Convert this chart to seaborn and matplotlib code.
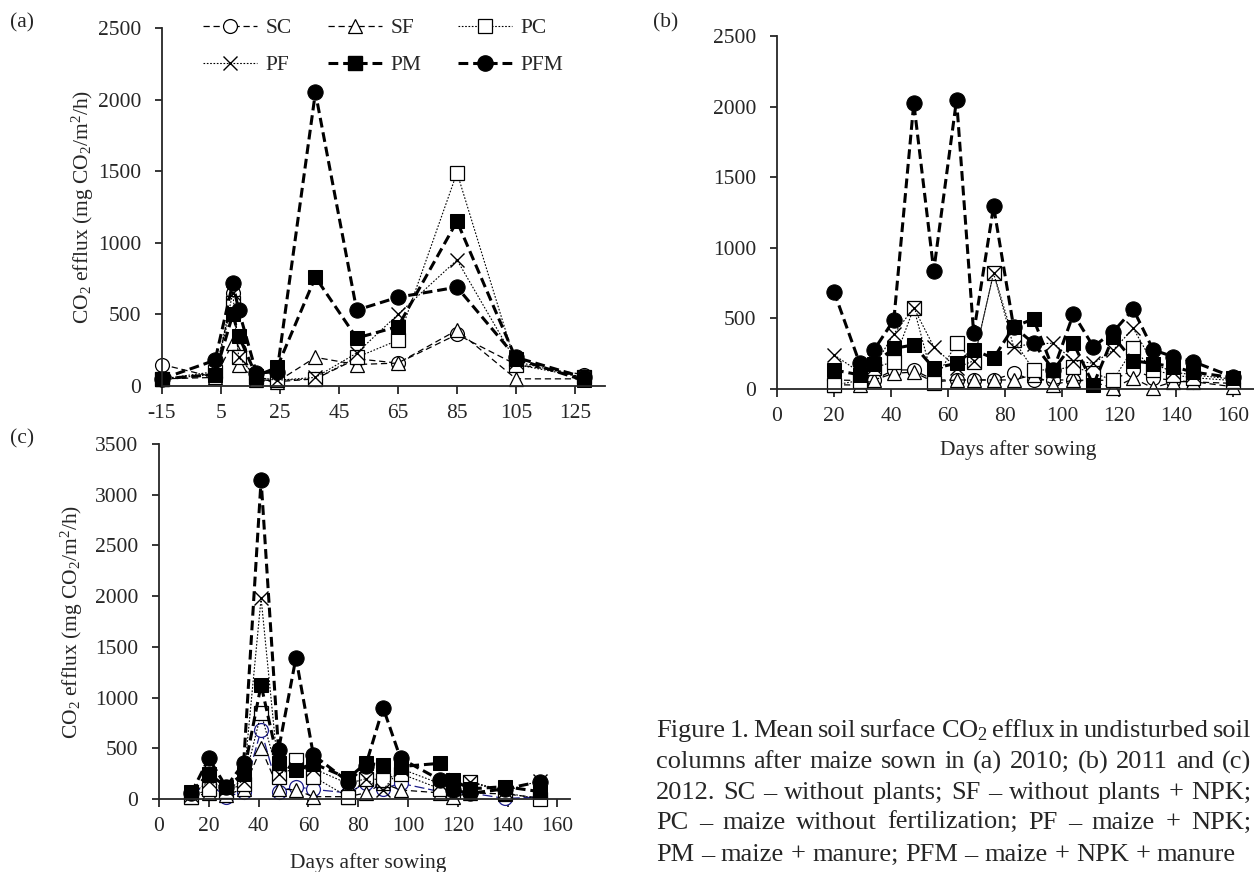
import numpy as np
import pandas as pd
import matplotlib
matplotlib.use("Agg")
import matplotlib.pyplot as plt
from matplotlib.lines import Line2D
import seaborn as sns

# ---------------- data ----------------
series_names = ["SC", "SF", "PC", "PF", "PM", "PFM"]

# (a) 2010
days_a = [-15, 3, 9, 11, 17, 24, 37, 51, 65, 85, 105, 128]
sc_a  = [150, 60, 650, 250, 50, 30, 50, 190, 160, 360, 150, 80]
sf_a  = [50, 60, 300, 150, 40, 30, 200, 150, 160, 390, 50, 50]
pc_a  = [50, 100, 580, 200, 60, 40, 50, 200, 320, 1490, 150, 60]
pf_a  = [50, 80, 650, 200, 60, 40, 60, 230, 500, 880, 170, 60]
pm_a  = [50, 80, 500, 350, 70, 130, 760, 335, 415, 1150, 190, 40]
pfm_a = [50, 180, 720, 530, 90, 100, 2050, 530, 620, 690, 200, 60]

# (b) 2011
days_b = [20, 29, 34, 41, 48, 55, 63, 69, 76, 83, 90, 97, 104, 111, 118, 125, 132, 139, 146, 160]
sc_b  = [64, 60, 64, 135, 135, 64, 64, 64, 64, 111, 64, 64, 64, 60, 64, 135, 80, 60, 50, 40]
sf_b  = [30, 28, 64, 111, 120, 50, 64, 64, 64, 64, 100, 30, 64, 50, 7, 76, 7, 52, 52, 16]
pc_b  = [28, 60, 150, 194, 574, 46, 324, 194, 822, 350, 135, 135, 158, 111, 64, 288, 135, 100, 80, 60]
pf_b  = [241, 120, 158, 390, 574, 300, 150, 200, 822, 300, 320, 324, 200, 182, 276, 430, 180, 120, 100, 70]
pm_b  = [135, 100, 180, 288, 312, 146, 182, 276, 218, 440, 496, 135, 324, 30, 371, 200, 180, 158, 120, 80]
pfm_b = [690, 182, 276, 489, 2025, 837, 2049, 395, 1293, 442, 324, 135, 532, 300, 406, 565, 277, 229, 194, 85]

# (c) 2012
days_c = [13, 20, 27, 34, 41, 48, 55, 62, 76, 83, 90, 97, 113, 118, 125, 139, 153]
sc_c  = [50, 150, 23, 70, 680, 72, 122, 95, 60, 155, 100, 155, 72, 60, 60, 5, 20]
sf_c  = [20, 60, 40, 100, 500, 100, 89, 23, 23, 60, 155, 89, 60, 20, 60, 50, 10]
pc_c  = [20, 100, 80, 150, 845, 220, 385, 220, 20, 200, 190, 250, 100, 80, 171, 60, 0]
pf_c  = [40, 180, 100, 180, 1979, 250, 300, 300, 150, 200, 90, 300, 150, 100, 171, 80, 180]
pm_c  = [72, 250, 120, 250, 1124, 352, 286, 350, 204, 352, 335, 320, 352, 187, 100, 122, 72]
pfm_c = [60, 401, 120, 352, 3146, 483, 1393, 434, 170, 330, 900, 401, 187, 89, 56, 100, 171]

xticks_a = [-15, 5, 25, 45, 65, 85, 105, 125]
xticks_bc = [0, 20, 40, 60, 80, 100, 120, 140, 160]
yticks_ab = [0, 500, 1000, 1500, 2000, 2500]
yticks_c = [0, 500, 1000, 1500, 2000, 2500, 3000, 3500]

caption_lines = [
    "Figure 1. Mean soil surface CO$_2$ efflux in undisturbed soil",
    "columns after maize sown in (a) 2010; (b) 2011 and (c)",
    "2012. SC – without plants; SF – without plants + NPK;",
    "PC – maize without fertilization; PF – maize + NPK;",
    "PM – maize + manure; PFM – maize + NPK + manure",
]

# ---------------- style ----------------
sns.set_style("ticks")
plt.rcParams["font.family"] = ["Liberation Serif", "DejaVu Serif"]
plt.rcParams["mathtext.default"] = "regular"
plt.rcParams["axes.linewidth"] = 1.3
plt.rcParams["axes.unicode_minus"] = False

W, H = 1254, 872
fig = plt.figure(figsize=(W / 100, H / 100), dpi=100)

def frac_rect(x0, y0, x1, y1):
    return [x0 / W, 1 - y1 / H, (x1 - x0) / W, (y1 - y0) / H]

FS = 15.5

thin_dash = (0, (5, 3))
dot = (0, (1.5, 1.5))
thick_dash = (0, (3.2, 1.6))

def styles(sc_color="black", sc_dash=thin_dash):
    return {
        "SC": dict(color=sc_color, lw=0.9, linestyle=sc_dash, marker="o", markersize=10,
                   markerfacecolor="white", markeredgecolor=sc_color, markeredgewidth=0.9),
        "SF": dict(color="black", lw=0.9, linestyle=thin_dash, marker="^", markersize=10,
                   markerfacecolor="white", markeredgecolor="black", markeredgewidth=0.9),
        "PC": dict(color="black", lw=0.8, linestyle=dot, marker="s", markersize=10,
                   markerfacecolor="white", markeredgecolor="black", markeredgewidth=0.9),
        "PF": dict(color="black", lw=0.8, linestyle=dot, marker="x", markersize=10,
                   markeredgecolor="black", markeredgewidth=1.0),
        "PM": dict(color="black", lw=2.2, linestyle=thick_dash, marker="s", markersize=10,
                   markerfacecolor="black", markeredgecolor="black"),
        "PFM": dict(color="black", lw=2.2, linestyle=thick_dash, marker="o", markersize=11,
                    markerfacecolor="black", markeredgecolor="black"),
    }

def draw_panel(ax, days, data, st):
    for name, vals in zip(series_names, data):
        df = pd.DataFrame({"day": days, "v": vals})
        sns.lineplot(data=df, x="day", y="v", ax=ax, sort=False, estimator=None,
                     clip_on=False, **st[name])
    sns.despine(ax=ax)
    ax.set_xlabel("")
    ax.set_ylabel("")
    ax.tick_params(axis="both", direction="out", labelsize=FS, width=1.3)
    ax.tick_params(axis="y", length=5, pad=10)
    ax.tick_params(axis="x", length=6, pad=7)

ylabel_txt = "CO$_2$ efflux (mg CO$_2$/m$^2$/h)"

# (a)
ax_a = fig.add_axes(frac_rect(162, 28, 162 + 150 * 2.95, 386))
draw_panel(ax_a, days_a, [sc_a, sf_a, pc_a, pf_a, pm_a, pfm_a], styles())
ax_a.set_xlim(-15, 135)
ax_a.set_ylim(0, 2500)
ax_a.set_xticks(xticks_a)
ax_a.set_yticks(yticks_ab)
ax_a.set_ylabel(ylabel_txt, fontsize=FS)
ax_a.yaxis.set_label_coords(-0.15, 0.5)

st = styles()
leg_order = ["SC", "PF", "SF", "PM", "PC", "PFM"]  # column-major fill -> rows SC SF PC / PF PM PFM
handles = [Line2D([], [], **st[n]) for n in leg_order]
fig.legend(handles, leg_order, loc="upper left", ncol=3, frameon=False,
           fontsize=FS, handlelength=2.5, handletextpad=0.4, columnspacing=1.7,
           labelspacing=0.8, borderpad=0, borderaxespad=0,
           bbox_to_anchor=(203 / W, 1 - 18 / H), bbox_transform=fig.transFigure)

# (b)
PXB = 2.85
ax_b = fig.add_axes(frac_rect(777, 36, 777 + 175 * PXB, 389))
draw_panel(ax_b, days_b, [sc_b, sf_b, pc_b, pf_b, pm_b, pfm_b], styles())
ax_b.set_xlim(0, 175)
ax_b.set_ylim(0, 2500)
ax_b.set_xticks(xticks_bc)
ax_b.set_yticks(yticks_ab)
ax_b.set_xlabel("Days after sowing", fontsize=FS)
ax_b.xaxis.set_label_coords((1018 - 777) / (175 * PXB), -0.145)

# (c)
ax_c = fig.add_axes(frac_rect(159, 444, 159 + 165 * 2.49, 799))
draw_panel(ax_c, days_c, [sc_c, sf_c, pc_c, pf_c, pm_c, pfm_c],
           styles(sc_color="#1c1c8a", sc_dash=(0, (8, 3))))
ax_c.set_xlim(0, 165)
ax_c.set_ylim(0, 3500)
ax_c.set_xticks(xticks_bc)
ax_c.set_yticks(yticks_c)
ax_c.set_xlabel("Days after sowing", fontsize=FS)
ax_c.xaxis.set_label_coords((368 - 159) / (165 * 2.49), -0.152)
ax_c.set_ylabel(ylabel_txt, fontsize=FS)
ax_c.yaxis.set_label_coords(-0.18, 0.5)

# panel letters
for lbl, x, y in [("(a)", 10, 23), ("(b)", 653, 23), ("(c)", 10, 439)]:
    fig.text(x / W, 1 - y / H, lbl, fontsize=FS, ha="left", va="center")

# caption (justified lines)
fig.canvas.draw()
renderer = fig.canvas.get_renderer()
cap_fs = 19
x0 = 656
x_ends = [1251, 1251, 1251, 1251, None]
ys = [731, 762, 793, 823, 855]

m1 = fig.text(0, 0, "a a", fontsize=cap_fs)
m2 = fig.text(0, 0, "aa", fontsize=cap_fs)
space_w = m1.get_window_extent(renderer).width - m2.get_window_extent(renderer).width
m1.remove()
m2.remove()

for line, xe, y in zip(caption_lines, x_ends, ys):
    words = line.split(" ")
    texts = [fig.text(0, 1 - y / H, w, fontsize=cap_fs, ha="left", va="center") for w in words]
    widths = [t.get_window_extent(renderer).width for t in texts]
    if xe is None:
        gap = space_w
    else:
        gap = (xe - x0 - sum(widths)) / (len(words) - 1)
    x = x0
    for t, w in zip(texts, widths):
        t.set_x(x / W)
        x += w + gap

fig.savefig("out.png", dpi=100)
